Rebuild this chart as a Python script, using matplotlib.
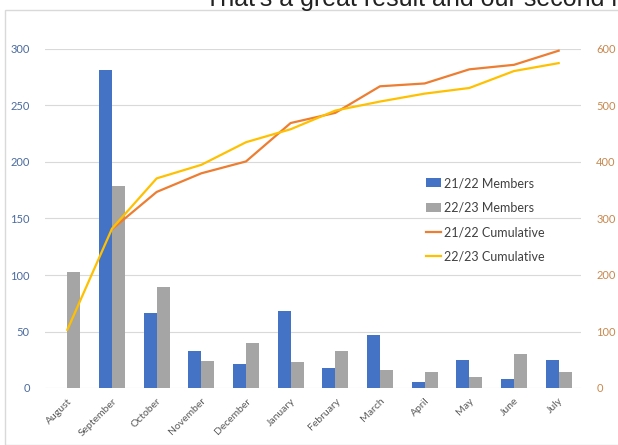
import numpy as np
import matplotlib
matplotlib.use("Agg")
import matplotlib.pyplot as plt
from matplotlib.patches import Rectangle

months = ["August", "September", "October", "November", "December", "January",
          "February", "March", "April", "May", "June", "July"]
members_2122 = [0, 281, 66, 33, 21, 68, 18, 47, 5, 25, 8, 25]
members_2223 = [103, 179, 89, 24, 40, 23, 33, 16, 14, 10, 30, 14]
cumul_2122 = [np.nan, 281, 347, 380, 401, 469, 487, 534, 539, 564, 572, 597]
cumul_2223 = [103, 282, 371, 395, 435, 458, 491, 507, 521, 531, 561, 575]

BLUE = "#4472C4"
GRAY = "#A5A5A5"
ORANGE = "#ED7D31"
YELLOW = "#FFC000"

plt.rcParams["font.family"] = ["Lato", "DejaVu Sans"]

fig = plt.figure(figsize=(6.18, 4.45), dpi=100)
W, H = 618, 445
ax = fig.add_axes([45 / W, 1 - 388 / H, 536 / W, 339 / H])
ax2 = ax.twinx()

x = np.arange(len(months))
bw = 0.29
ax.bar(x - bw / 2, members_2122, bw, color=BLUE, label="21/22 Members", zorder=3)
ax.bar(x + bw / 2, members_2223, bw, color=GRAY, label="22/23 Members", zorder=3)
ax2.plot(x, cumul_2122, color=ORANGE, lw=1.6, label="21/22 Cumulative")
ax2.plot(x, cumul_2223, color=YELLOW, lw=1.6, label="22/23 Cumulative")

ax.set_xlim(-0.5, 11.5)
ax.set_ylim(0, 300)
ax2.set_ylim(0, 600)
ax.set_yticks(range(0, 301, 50))
ax2.set_yticks(range(0, 601, 100))
ax.grid(axis="y", color="#D9D9D9", lw=0.8, zorder=0)
ax.set_axisbelow(True)

for a in (ax, ax2):
    for s in a.spines.values():
        s.set_visible(False)
    a.tick_params(length=0)

ax.set_xticks(x)
ax.set_xticklabels(months, rotation=45, ha="right", rotation_mode="anchor",
                   fontsize=7.5, color="#595959")
ax.tick_params(axis="x", pad=6)
ax.tick_params(axis="y", labelsize=8, labelcolor="#4A6A9E", pad=11)
ax2.tick_params(axis="y", labelsize=8, labelcolor="#C8884E", pad=11)

h1, l1 = ax.get_legend_handles_labels()
h2, l2 = ax2.get_legend_handles_labels()
leg = ax2.legend(h1 + h2, l1 + l2, loc="upper left", bbox_to_anchor=(0.69, 0.655),
                 frameon=False, fontsize=9, handlelength=1.2, handletextpad=0.2,
                 labelspacing=1.0)
for t in leg.get_texts():
    t.set_color("#404040")

fig.patches.append(Rectangle((5 / W, 0), 1, 1 - 10 / H, transform=fig.transFigure,
                             fill=False, edgecolor="#D9D9D9", lw=1))
fig.text(205 / W, 1 - 6 / H, "That's a great result and our second half",
         fontsize=18, color="#222222", family="Liberation Sans", va="baseline")

fig.savefig("out.png", dpi=100)
